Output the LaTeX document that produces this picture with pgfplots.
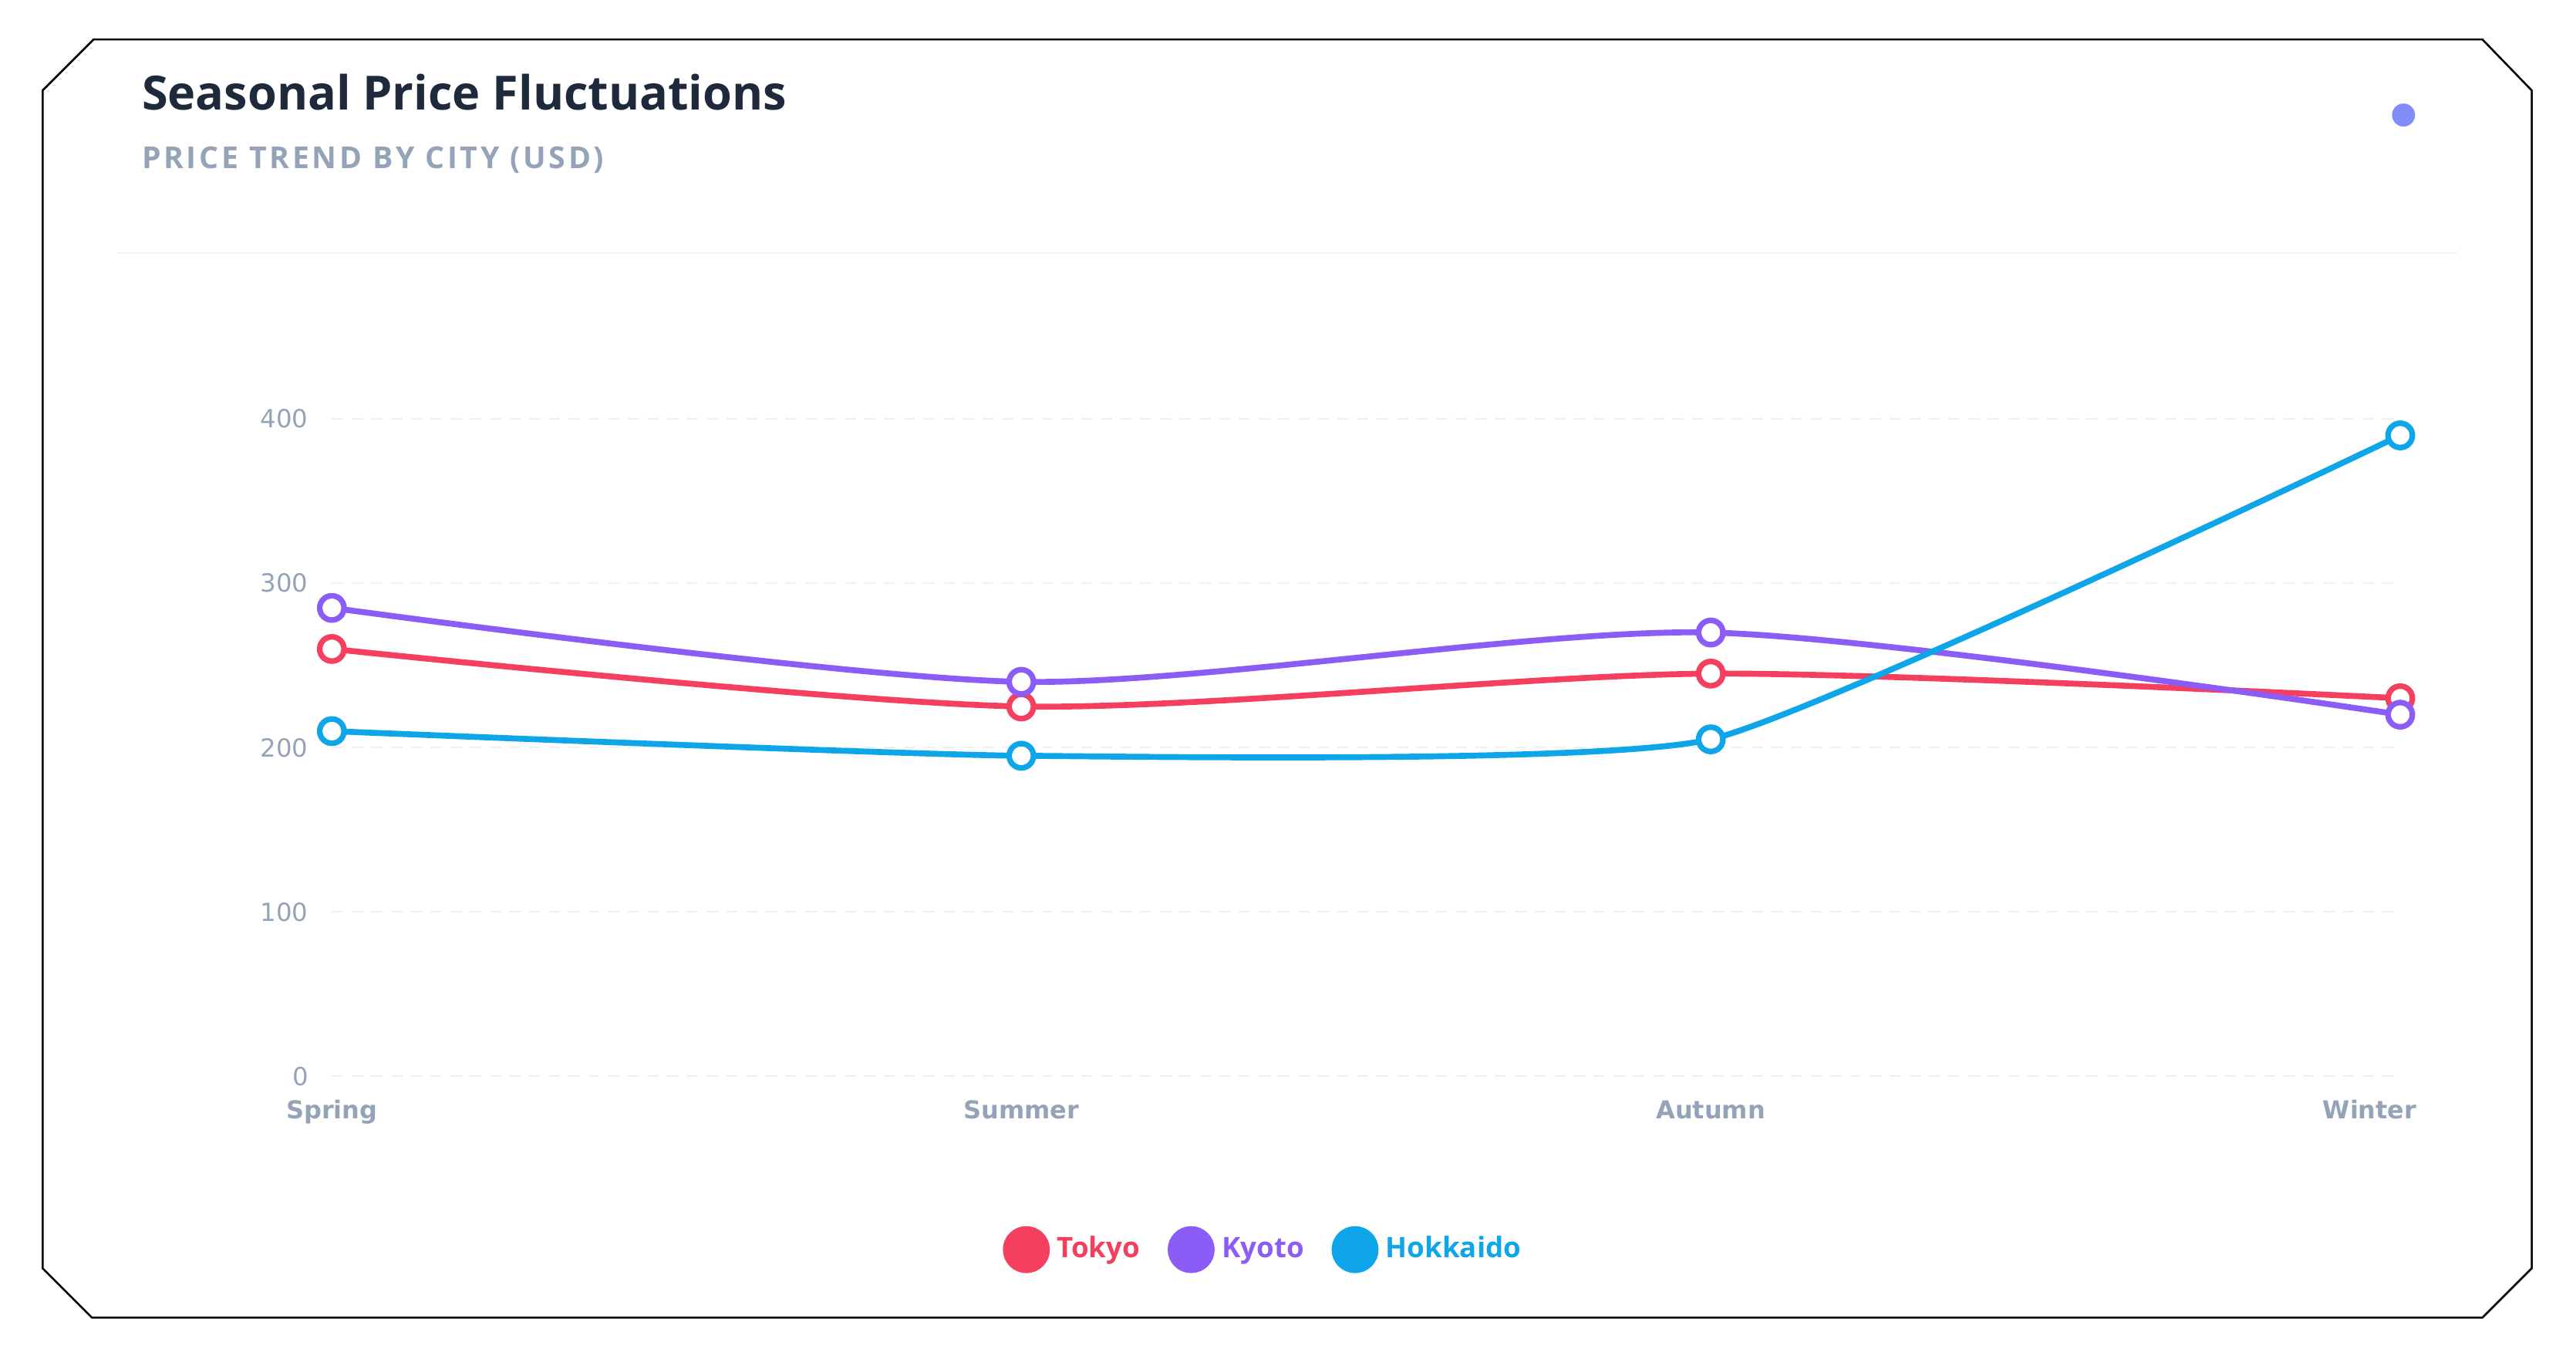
\documentclass[border=0pt]{standalone}
\usepackage{fontspec}
\usepackage{pgfplots}
\pgfplotsset{compat=1.18}
\setmainfont{Open Sans}
\newfontfamily\dejavu{DejaVu Sans}
\definecolor{tokyo}{HTML}{F43F5E}
\definecolor{kyoto}{HTML}{8B5CF6}
\definecolor{hokk}{HTML}{0EA5E9}
\definecolor{titlec}{HTML}{1E293B}
\definecolor{subc}{HTML}{94A3B8}
\definecolor{dotc}{HTML}{818CF8}
\definecolor{gridc}{HTML}{EDF0F4}
\definecolor{sepc}{HTML}{F1F3F7}
\begin{document}
\begin{tikzpicture}
\path[use as bounding box] (0,0) rectangle (784pt,413.5pt);
\draw[line width=0.6pt, line join=miter] (13pt,386pt) -- (28.5pt,401.5pt) -- (755.5pt,401.5pt) -- (770.5pt,386pt) -- (770.5pt,27.5pt) -- (755.5pt,12.5pt) -- (28pt,12.5pt) -- (13pt,27.5pt) -- cycle;
\node[anchor=base west, inner sep=0pt, text=titlec, font=\fontsize{14.35}{16}\selectfont\bfseries] at (43pt,380pt) {Seasonal Price Fluctuations};
\node[anchor=base west, inner sep=0pt, text=subc, font=\fontsize{9.2}{11}\selectfont\bfseries\addfontfeatures{LetterSpace=9.5}] at (43pt,362.3pt) {PRICE TREND BY CITY (USD)};
\fill[dotc] (731.5pt,378.5pt) circle (3.5pt);
\draw[sepc, line width=0.6pt] (36pt,336.5pt) -- (748pt,336.5pt);
\begin{axis}[
  at={(101pt,86pt)}, anchor=south west, scale only axis,
  width=629.5pt, height=200pt,
  xmin=0, xmax=3, ymin=0, ymax=400, clip=false,
  axis line style={draw=none}, major tick length=0pt,
  xtick={0,1,2,3},
  xticklabels={Spring,Summer,Autumn,{\makebox[10pt][r]{Winter}}},
  ytick={0,100,200,300,400},
  ymajorgrids,
  major grid style={gridc, line width=0.5pt, dash pattern=on 3.5pt off 2.5pt},
  /pgf/number format/assume math mode=true,
  xticklabel style={font=\dejavu\bfseries\fontsize{7.5}{9}\selectfont, text=subc, anchor=base, yshift=-13pt, inner sep=0pt},
  yticklabel style={font=\dejavu\fontsize{7.6}{9}\selectfont, text=subc, anchor=east, inner sep=0pt, xshift=-7pt},
  legend style={at={(0.3241,-0.264)}, anchor=west, draw=none, fill=none, inner sep=0pt,
    nodes={inner sep=0pt}, font=\bfseries\fontsize{8.6}{10}\selectfont,
    /tikz/every odd column/.append style={column sep=2.2pt},
    /tikz/every even column/.append style={column sep=8.4pt}},
  legend columns=-1,
  every axis plot/.append style={line width=1.8pt, smooth, mark=*, mark size=3.7pt},
]
\addplot[tokyo, tension=0.45, mark options={fill=white, draw=tokyo, line width=1.7pt},
  legend image code/.code={\fill[tokyo] (6.25pt,0pt) circle (6.25pt);}]
  coordinates {(0,260) (1,225) (2,245) (3,230)};
\addlegendentry{\textcolor{tokyo}{Tokyo}}
\addplot[kyoto, tension=0.45, mark options={fill=white, draw=kyoto, line width=1.7pt},
  legend image code/.code={\fill[kyoto] (6.25pt,0pt) circle (6.25pt);}]
  coordinates {(0,285) (1,240) (2,270) (3,220)};
\addlegendentry{\textcolor{kyoto}{Kyoto}}
\addplot[hokk, tension=0.28, mark options={fill=white, draw=hokk, line width=1.7pt},
  legend image code/.code={\fill[hokk] (6.25pt,0pt) circle (6.25pt);}]
  coordinates {(0,210) (1,195) (2,205) (3,390)};
\addlegendentry{\textcolor{hokk}{Hokkaido}}
\end{axis}
\end{tikzpicture}
\end{document}
